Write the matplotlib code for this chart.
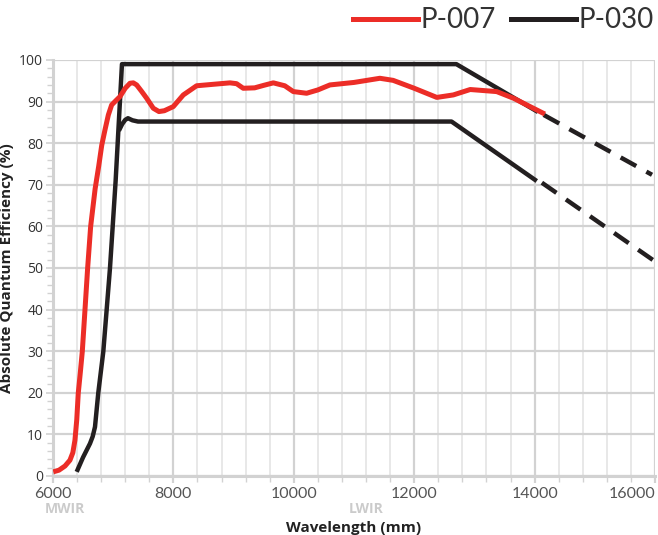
import matplotlib
matplotlib.use('Agg')
import matplotlib.pyplot as plt
from matplotlib.lines import Line2D
from matplotlib.ticker import MultipleLocator

RED = '#ec2d27'
BLACK = '#231f20'
GRID_MAJOR = '#d2d2d2'
GRID_MINOR = '#e4e4e4'

# P-007 (red) measured curve
p007_wl = [6005, 6100, 6200, 6282, 6330, 6365, 6395, 6420, 6455, 6487, 6532,
           6576, 6626, 6700, 6760, 6810, 6864, 6920, 6975, 7050, 7113, 7200,
           7279, 7334, 7390, 7470, 7556, 7666, 7760, 7850, 7999, 8165, 8386,
           8700, 8940, 9050, 9160, 9350, 9500, 9660, 9850, 9992, 10213, 10400,
           10600, 11000, 11430, 11650, 12000, 12375, 12650, 12930, 13370, 13650,
           14170]
p007_qe = [1.0, 1.4, 2.4, 3.8, 5.6, 8.6, 13.5, 19.9, 25.0, 29.9, 40.0,
           50.0, 60.0, 69.0, 74.5, 79.5, 83.2, 86.8, 89.2, 90.3, 91.2, 93.2,
           94.4, 94.5, 94.0, 92.5, 90.8, 88.4, 87.6, 87.8, 88.8, 91.6, 93.8,
           94.2, 94.5, 94.3, 93.2, 93.3, 93.9, 94.5, 93.8, 92.4, 92.0, 92.8,
           94.0, 94.6, 95.6, 95.1, 93.2, 91.0, 91.6, 92.9, 92.4, 90.8,
           87.0]

# P-030 (black) upper and lower curves
p030_hi_wl = [6394, 6500, 6615, 6660, 6698, 6752, 6836, 6892, 6947, 6992, 7041, 7146, 12700, 14056]
p030_hi_qe = [1.0, 4.5, 7.8, 9.5, 11.8, 19.9, 29.9, 40.0, 50.0, 60.0, 71.0, 99.0, 99.0, 87.5]
p030_lo_wl = [7095, 7150, 7200, 7246, 7320, 7412, 12620, 14035]
p030_lo_qe = [83.0, 84.6, 85.6, 86.0, 85.5, 85.2, 85.2, 70.9]

# extrapolated (dashed) parts
ext_hi_wl = [14150, 15950]
ext_hi_qe = [86.8, 72.4]
ext_lo_wl = [14120, 15967]
ext_lo_qe = [70.5, 51.9]

x_ticks = [6000, 8000, 10000, 12000, 14000, 16000]
y_ticks = list(range(0, 101, 10))
bands = [('MWIR', 6200), ('LWIR', 11200)]


def main():
    fig = plt.figure(figsize=(6.58, 5.35), dpi=100)
    ax = fig.add_axes([0.0805, 0.1103, 0.915, 0.7776])

    ax.set_xlim(6000, 16000)
    ax.set_ylim(0, 100)

    ax.xaxis.set_major_locator(MultipleLocator(2000))
    ax.xaxis.set_minor_locator(MultipleLocator(400))
    ax.yaxis.set_major_locator(MultipleLocator(10))
    ax.yaxis.set_minor_locator(MultipleLocator(2))

    ax.grid(which='major', axis='both', color=GRID_MAJOR, linewidth=1.6, zorder=0)
    ax.grid(which='minor', axis='x', color=GRID_MINOR, linewidth=1.2, zorder=0)
    ax.set_axisbelow(True)

    for side in ('top', 'right'):
        ax.spines[side].set_visible(False)
    for side in ('left', 'bottom'):
        ax.spines[side].set_color(GRID_MAJOR)
        ax.spines[side].set_linewidth(2.2)

    ax.tick_params(axis='both', which='both', color=GRID_MAJOR)
    ax.tick_params(axis='y', which='major', length=5, width=1.2, pad=2,
                   labelsize=10, labelcolor='#333333')
    ax.tick_params(axis='y', which='minor', length=4, width=1.0)
    ax.tick_params(axis='x', which='major', length=5, width=1.6, pad=3,
                   labelsize=11.5, labelcolor='#555555')
    ax.tick_params(axis='x', which='minor', length=4, width=1.0)

    ax.set_xticks(x_ticks)
    ax.set_xticklabels([str(t) for t in x_ticks], family='Lato')
    ax.get_xticklabels()[-1].set_horizontalalignment('right')  # last label kept inside
    ax.set_yticks(y_ticks)
    ax.set_yticklabels([str(t) for t in y_ticks], family='Open Sans')

    ax.plot(p030_lo_wl, p030_lo_qe, color=BLACK, lw=3.2, solid_joinstyle='round',
            solid_capstyle='butt', zorder=3)
    ax.plot(p030_hi_wl, p030_hi_qe, color=BLACK, lw=3.2, solid_joinstyle='round',
            solid_capstyle='butt', zorder=3)
    ax.plot(p007_wl, p007_qe, color=RED, lw=3.6, solid_joinstyle='round',
            solid_capstyle='butt', zorder=4)
    ax.plot(ext_hi_wl, ext_hi_qe, color=BLACK, lw=3.2, dashes=(4, 2.6), zorder=3,
            clip_on=False)
    ax.plot(ext_lo_wl, ext_lo_qe, color=BLACK, lw=3.2, dashes=(4, 2.6), zorder=3,
            clip_on=False)

    for name, xpos in bands:
        ax.annotate(name, xy=(xpos, 0), xycoords=('data', 'axes fraction'),
                    xytext=(0, -23.5), textcoords='offset points', ha='center', va='center',
                    fontsize=10, fontweight='bold', color='#cbcbcb', family='Open Sans')

    ax.set_xlabel('Wavelength (mm)', fontsize=11, fontweight='bold', family='Open Sans',
                  color='#222222', labelpad=14)
    ax.set_ylabel('Absolute Quantum Efficiency (%)', fontsize=11, fontweight='bold',
                  family='Open Sans', color='#222222', labelpad=4)

    handles = [Line2D([], [], color=RED, lw=3.6), Line2D([], [], color=BLACK, lw=3.6)]
    fig.legend(handles, ['P-007', 'P-030'], loc='center right', bbox_to_anchor=(1.0, 0.962),
               ncol=2, frameon=False, handlelength=2.35, handletextpad=0.08,
               columnspacing=0.55, borderaxespad=0.15, borderpad=0.0,
               labelcolor='#333333', prop={'family': 'Lato', 'size': 20})

    fig.savefig('out.png', dpi=100)


if __name__ == '__main__':
    main()
